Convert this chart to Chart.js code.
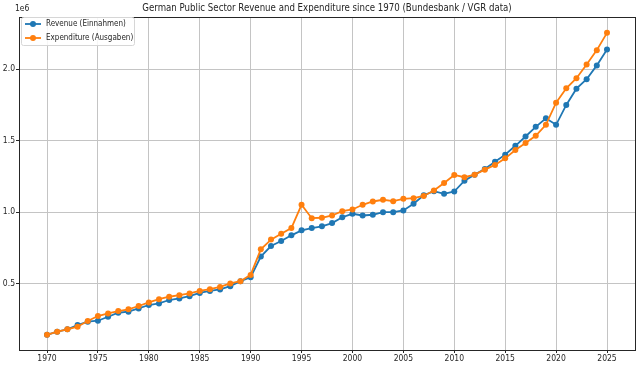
<!DOCTYPE html>
<html>
<head>
<meta charset="utf-8">
<script src="https://cdn.jsdelivr.net/npm/chart.js@4.4.1/dist/chart.umd.min.js"></script>
<style>
    html, body { margin: 0; padding: 0; background: #fff; }
    #wrap { width: 639px; height: 367px; }
</style>
</head>
<body>
<div id="wrap"><canvas id="financeChart" width="639" height="367"></canvas></div>
<script>
const years = [1970, 1971, 1972, 1973, 1974, 1975, 1976, 1977, 1978, 1979,
               1980, 1981, 1982, 1983, 1984, 1985, 1986, 1987, 1988, 1989,
               1990, 1991, 1992, 1993, 1994, 1995, 1996, 1997, 1998, 1999,
               2000, 2001, 2002, 2003, 2004, 2005, 2006, 2007, 2008, 2009,
               2010, 2011, 2012, 2013, 2014, 2015, 2016, 2017, 2018, 2019,
               2020, 2021, 2022, 2023, 2024, 2025];

// values in units of 1e6 (as on the axis)
const revenue = [0.140, 0.162, 0.179, 0.209, 0.232, 0.239, 0.267, 0.295, 0.302, 0.325,
                 0.349, 0.360, 0.384, 0.395, 0.411, 0.434, 0.448, 0.458, 0.481, 0.516,
                 0.544, 0.688, 0.762, 0.797, 0.837, 0.872, 0.888, 0.900, 0.923, 0.964,
                 0.988, 0.976, 0.981, 0.999, 0.999, 1.011, 1.058, 1.118, 1.146, 1.128,
                 1.144, 1.220, 1.262, 1.302, 1.353, 1.402, 1.464, 1.529, 1.597, 1.657,
                 1.611, 1.750, 1.864, 1.930, 2.027, 2.139];

const expenditure = [0.140, 0.162, 0.179, 0.197, 0.237, 0.272, 0.290, 0.307, 0.319, 0.342,
                     0.367, 0.390, 0.407, 0.418, 0.430, 0.448, 0.460, 0.476, 0.500, 0.516,
                     0.560, 0.739, 0.807, 0.848, 0.888, 1.051, 0.957, 0.960, 0.976, 1.006,
                     1.018, 1.051, 1.074, 1.086, 1.076, 1.093, 1.097, 1.113, 1.151, 1.204,
                     1.260, 1.244, 1.262, 1.297, 1.330, 1.376, 1.434, 1.483, 1.534, 1.611,
                     1.766, 1.867, 1.937, 2.034, 2.134, 2.255];

const xTicks = [1970, 1975, 1980, 1985, 1990, 1995, 2000, 2005, 2010, 2015, 2020, 2025];
const yTicks = [0.5, 1.0, 1.5, 2.0];
const seriesNames = ['Revenue (Einnahmen)', 'Expenditure (Ausgaben)'];
const seriesColors = ['#1f77b4', '#ff7f0e'];
const chartTitle = 'German Public Sector Revenue and Expenditure since 1970 (Bundesbank / VGR data)';
const offsetText = '1e6';

const FONT = "'Liberation Sans Narrow', 'DejaVu Sans Condensed', sans-serif";

function toPoints(vals) {
    return years.map((yr, i) => ({ x: yr, y: vals[i] }));
}

// рамка, заголовок, 1e6 и легенда в стиле matplotlib
const decorPlugin = {
    id: 'decor',
    afterDraw(chart) {
        const ctx = chart.ctx;
        const a = chart.chartArea;
        ctx.save();
        ctx.strokeStyle = '#262626';
        ctx.lineWidth = 1;
        ctx.strokeRect(Math.round(a.left) + 0.5, Math.round(a.top) + 0.5,
                       Math.round(a.right - a.left), Math.round(a.bottom - a.top));

        ctx.fillStyle = '#262626';
        ctx.font = "9.6px " + FONT;
        ctx.textAlign = 'center';
        ctx.textBaseline = 'middle';
        ctx.fillText(chartTitle, (a.left + a.right) / 2, 8);

        ctx.font = "8.5px " + FONT;
        ctx.textAlign = 'left';
        ctx.fillText(offsetText, a.left - 4, 9);

        // legend
        const bx = 21.5, by = 17.5, bw = 113, bh = 28;
        ctx.beginPath();
        ctx.roundRect(bx, by, bw, bh, 2);
        ctx.fillStyle = 'rgba(255,255,255,0.85)';
        ctx.fill();
        ctx.strokeStyle = '#d6d6d6';
        ctx.stroke();
        chart.data.datasets.forEach((ds, i) => {
            const ly = 24 + i * 14;
            ctx.strokeStyle = ds.borderColor;
            ctx.lineWidth = 1.8;
            ctx.beginPath();
            ctx.moveTo(25, ly);
            ctx.lineTo(41, ly);
            ctx.stroke();
            ctx.fillStyle = ds.borderColor;
            ctx.beginPath();
            ctx.arc(33, ly, 3, 0, Math.PI * 2);
            ctx.fill();
            ctx.fillStyle = '#262626';
            ctx.font = "8px " + FONT;
            ctx.textAlign = 'left';
            ctx.textBaseline = 'middle';
            ctx.fillText(ds.label, 46, ly);
        });
        ctx.restore();
    }
};

const ctx = document.getElementById('financeChart').getContext('2d');
const financeChart = new Chart(ctx, {
    type: 'line',
    data: {
        datasets: [{
            label: seriesNames[0],
            data: toPoints(revenue),
            borderColor: seriesColors[0],
            backgroundColor: seriesColors[0],
            borderWidth: 1.8,
            pointRadius: 3,
            pointBorderWidth: 0,
            order: 2
        }, {
            label: seriesNames[1],
            data: toPoints(expenditure),
            borderColor: seriesColors[1],
            backgroundColor: seriesColors[1],
            borderWidth: 1.8,
            pointRadius: 3,
            pointBorderWidth: 0,
            order: 1
        }]
    },
    options: {
        responsive: false,
        devicePixelRatio: 1,
        animation: false,
        layout: { padding: { top: 17, right: 3, left: 0, bottom: 0 } },
        plugins: {
            legend: { display: false },
            title: { display: false },
            tooltip: { enabled: false }
        },
        scales: {
            x: {
                type: 'linear',
                min: 1967.25,
                max: 2027.75,
                afterBuildTicks: (scale) => { scale.ticks = xTicks.map(v => ({ value: v })); },
                afterFit: (scale) => { scale.height = 17; },
                grid: { color: '#c4c4c4', lineWidth: 1, tickLength: 3, tickColor: '#262626' },
                border: { display: false },
                ticks: {
                    color: '#262626',
                    font: { family: FONT, size: 8.5 },
                    padding: 1,
                    maxRotation: 0,
                    callback: (v) => String(v)
                }
            },
            y: {
                type: 'linear',
                min: 0.034,
                max: 2.366,
                afterBuildTicks: (scale) => { scale.ticks = yTicks.map(v => ({ value: v })); },
                afterFit: (scale) => { scale.width = 19; },
                grid: { color: '#c4c4c4', lineWidth: 1, tickLength: 3, tickColor: '#262626' },
                border: { display: false },
                ticks: {
                    color: '#262626',
                    font: { family: FONT, size: 8.5 },
                    padding: 1,
                    callback: (v) => v.toFixed(1)
                }
            }
        }
    },
    plugins: [decorPlugin]
});
</script>
</body>
</html>
